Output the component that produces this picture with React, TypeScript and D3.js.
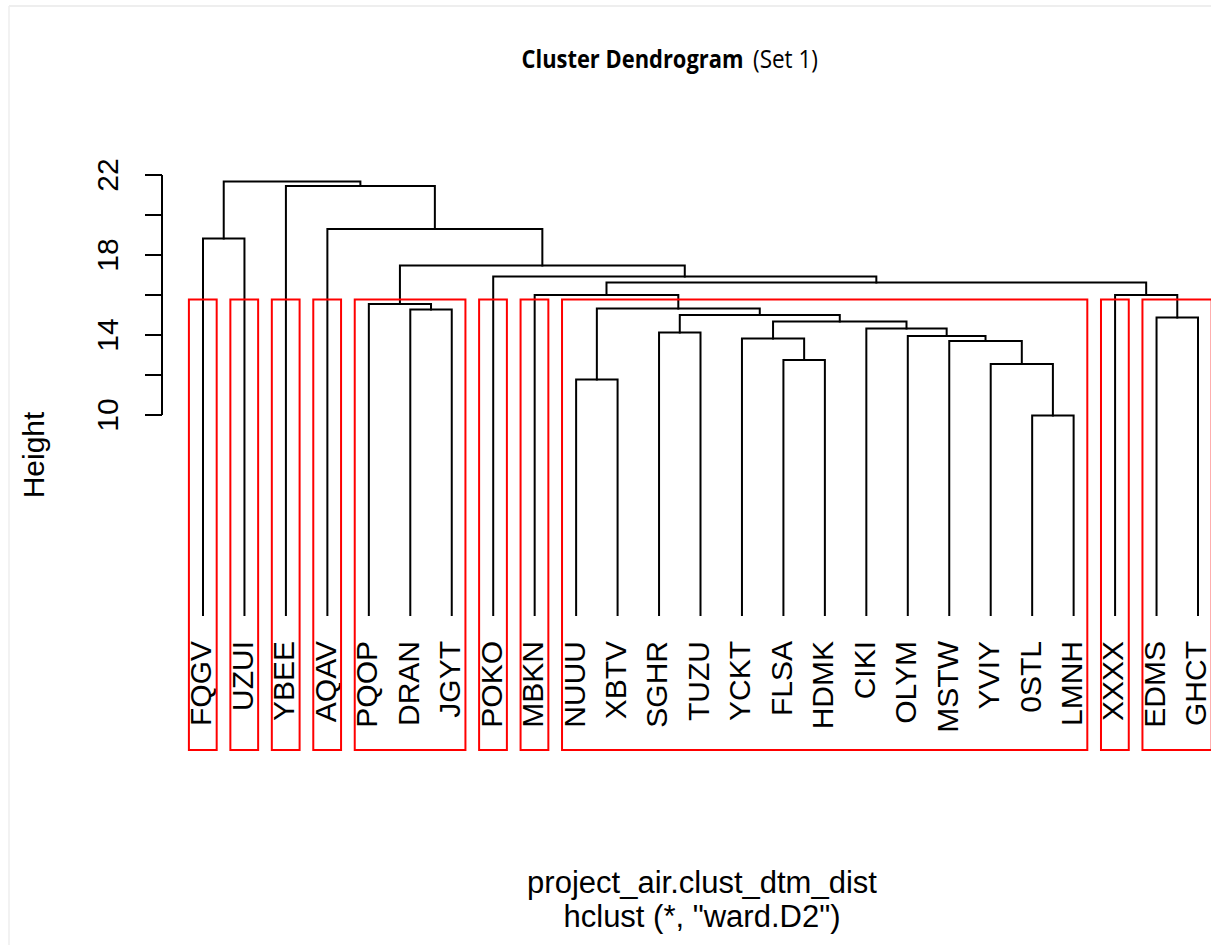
import React, { useEffect, useRef } from 'react';
import * as d3 from 'd3';

const width = 1211;
const height = 945;

// leaf labels in plot order (left to right)
const leafLabels = ['FQGV', 'UZUI', 'YBEE', 'AQAV', 'PQOP', 'DRAN', 'JGYT', 'POKO', 'MBKN', 'NUUU', 'XBTV', 'SGHR', 'TUZU',
  'YCKT', 'FLSA', 'HDMK', 'CIKI', 'OLYM', 'MSTW', 'YVIY', '0STL', 'LMNH', 'XXXX', 'EDMS', 'GHCT'];

// hclust style merge matrix: negative = leaf (1-based), positive = earlier merge (1-based)
const mergeLeft = [-21, -10, -20, -15, -19, -14, -18, -12, -17, 6, -24, 8, -6, 2, -5, -9, -23, 16, -8, 15, -1, -4, -3, 21];
const mergeRight = [-22, -11, 1, -16, 3, 4, 5, -13, 7, 9, -25, 10, -7, 12, 13, 14, 11, 17, 18, 19, -2, 20, 22, 23];
const mergeHeights = [9.98, 11.78, 12.55, 12.75, 13.7, 13.83, 13.95, 14.12, 14.33, 14.67, 14.88, 15.0, 15.28, 15.33, 15.55,
  16.0, 16.0, 16.62, 16.92, 17.48, 18.83, 19.3, 21.45, 21.67];

const axisTicks = [10, 12, 14, 16, 18, 20, 22];
const axisLabels = [10, 14, 18, 22];
const numClusters = 10;

const usrBottom = -6.75;

export default function App() {
  const ref = useRef<SVGSVGElement>(null);

  useEffect(() => {
    const svg = d3.select(ref.current);
    svg.selectAll('*').remove();

    const x = d3.scaleLinear().domain([1, leafLabels.length]).range([203, 1198]);
    const y = d3.scaleLinear().domain([10, 22]).range([415, 175]);

    // light frame of the screenshot
    svg.append('line').attr('x1', 9).attr('x2', width).attr('y1', 6).attr('y2', 6)
      .attr('stroke', '#eeeeee').attr('stroke-width', 2);
    svg.append('line').attr('x1', 9).attr('x2', 9).attr('y1', 6).attr('y2', height)
      .attr('stroke', '#eeeeee').attr('stroke-width', 1.5);

    // positions of each node
    const nodeX = (id: number): number => id < 0 ? x(-id) : mergeX[id - 1];
    const nodeH = (id: number): number => id < 0 ? 0 : mergeHeights[id - 1];
    const mergeX: number[] = [];
    const firstLeaf: number[] = [];
    const lastLeaf: number[] = [];
    for (let i = 0; i < mergeHeights.length; i++) {
      const l = mergeLeft[i], r = mergeRight[i];
      mergeX.push((nodeX(l) + nodeX(r)) / 2);
      firstLeaf.push(l < 0 ? -l : firstLeaf[l - 1]);
      lastLeaf.push(r < 0 ? -r : lastLeaf[r - 1]);
    }

    const g = svg.append('g')
      .attr('fill', 'none')
      .attr('stroke', 'black')
      .attr('stroke-width', 2)
      .attr('stroke-linejoin', 'miter')
      .attr('stroke-linecap', 'square');

    g.selectAll('path')
      .data(d3.range(mergeHeights.length))
      .join('path')
      .attr('d', i => {
        const l = mergeLeft[i], r = mergeRight[i];
        const yt = y(mergeHeights[i]);
        return `M${nodeX(l)},${y(nodeH(l))}V${yt}H${nodeX(r)}V${y(nodeH(r))}`;
      });

    // leaf labels
    svg.append('g')
      .attr('font-family', 'Liberation Sans, Arial, sans-serif')
      .attr('font-size', 30)
      .attr('text-anchor', 'end')
      .selectAll('text')
      .data(leafLabels)
      .join('text')
      .attr('transform', (d, i) => `translate(${x(i + 1)},${y(0) + 26}) rotate(-90)`)
      .attr('dy', '0.28em')
      .text(d => d);

    // cluster rectangles (cut tree into k groups)
    const sortedDesc = [...mergeHeights].sort((a, b) => b - a);
    const cut = (sortedDesc[numClusters - 2] + sortedDesc[numClusters - 1]) / 2;
    const clusters: [number, number][] = [];
    const walk = (id: number) => {
      if (id < 0) { clusters.push([-id, -id]); return; }
      if (mergeHeights[id - 1] <= cut) { clusters.push([firstLeaf[id - 1], lastLeaf[id - 1]]); return; }
      walk(mergeLeft[id - 1]);
      walk(mergeRight[id - 1]);
    };
    walk(mergeHeights.length);

    svg.append('g')
      .selectAll('rect')
      .data(clusters)
      .join('rect')
      .attr('x', d => x(d[0] - 0.34))
      .attr('width', d => x(d[1] + 0.33) - x(d[0] - 0.34))
      .attr('y', y(cut))
      .attr('height', y(usrBottom) - y(cut))
      .attr('fill', 'none')
      .attr('stroke', '#ff0000')
      .attr('stroke-width', 2);

    // y axis
    const ax = svg.append('g').attr('stroke', 'black').attr('stroke-width', 2).attr('fill', 'none');
    ax.append('path').attr('d', `M162,${y(axisTicks[0])}V${y(axisTicks[axisTicks.length - 1])}`);
    ax.selectAll('line')
      .data(axisTicks)
      .join('line')
      .attr('x1', 145).attr('x2', 162)
      .attr('y1', d => y(d)).attr('y2', d => y(d));

    svg.append('g')
      .attr('font-family', 'Liberation Sans, Arial, sans-serif')
      .attr('font-size', 30)
      .attr('text-anchor', 'middle')
      .selectAll('text')
      .data(axisLabels)
      .join('text')
      .attr('transform', d => `translate(118,${y(d)}) rotate(-90)`)
      .text(d => d);

    svg.append('text')
      .attr('transform', 'translate(43.5,455) rotate(-90)')
      .attr('font-family', 'Liberation Sans, Arial, sans-serif')
      .attr('font-size', 30)
      .attr('text-anchor', 'middle')
      .text('Height');

    // bottom labels
    const sub = svg.append('g')
      .attr('font-family', 'Liberation Sans, Arial, sans-serif')
      .attr('font-size', 31)
      .attr('text-anchor', 'middle');
    sub.append('text').attr('x', 702).attr('y', 893).text('project_air.clust_dtm_dist');
    sub.append('text').attr('x', 702).attr('y', 927).text('hclust (*, "ward.D2")');

    // title, bold part and plain part, squeezed to the narrow look of the original font
    const title = svg.append('g')
      .attr('font-family', 'Open Sans, sans-serif')
      .attr('font-size', 25);
    const fitText = (txt: string, x0: number, w: number, bold: boolean) => {
      const t = title.append('text').attr('font-weight', bold ? 'bold' : 'normal').text(txt);
      const natural = (t.node() as SVGTextElement).getComputedTextLength() || w;
      t.attr('transform', `translate(${x0},67.5) scale(${w / natural},1)`);
    };
    fitText('Cluster Dendrogram', 521.5, 222, true);
    fitText('(Set 1)', 753, 65, false);
  }, []);

  return (
    <svg ref={ref} width={width} height={height}
      style={{ position: 'absolute', left: 0, top: 0, background: 'white' }} />
  );
}
